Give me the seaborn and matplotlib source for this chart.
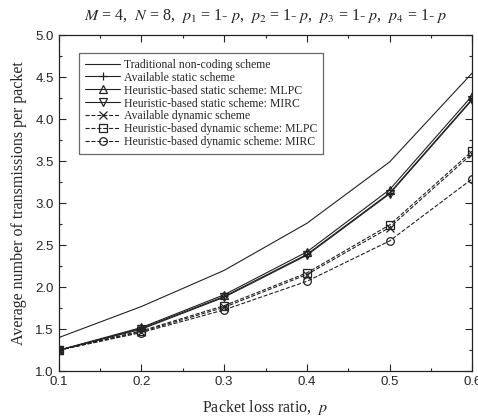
import numpy as np
import pandas as pd
import seaborn as sns
import matplotlib
matplotlib.use("Agg")
from matplotlib import pyplot as plt
from matplotlib.ticker import MultipleLocator

p = [0.1, 0.2, 0.3, 0.4, 0.5, 0.6]
traditional = [1.40, 1.77, 2.20, 2.76, 3.49, 4.55]
static_avail = [1.25, 1.51, 1.89, 2.39, 3.12, 4.24]
static_mlpc = [1.25, 1.52, 1.91, 2.42, 3.16, 4.28]
static_mirc = [1.25, 1.50, 1.88, 2.38, 3.11, 4.23]
dynamic_avail = [1.25, 1.47, 1.76, 2.15, 2.71, 3.59]
dynamic_mlpc = [1.25, 1.48, 1.78, 2.17, 2.74, 3.62]
dynamic_mirc = [1.25, 1.46, 1.73, 2.07, 2.55, 3.29]

series = [
    ("Traditional non-coding scheme", traditional, "-", None),
    ("Available static scheme", static_avail, "-", "+"),
    ("Heuristic-based static scheme: MLPC", static_mlpc, "-", "^"),
    ("Heuristic-based static scheme: MIRC", static_mirc, "-", "v"),
    ("Available dynamic scheme", dynamic_avail, "--", "x"),
    ("Heuristic-based dynamic scheme: MLPC", dynamic_mlpc, "--", "s"),
    ("Heuristic-based dynamic scheme: MIRC", dynamic_mirc, "--", "o"),
]

sns.set_style("ticks")
plt.rcParams["font.family"] = ["Liberation Sans", "DejaVu Sans"]
plt.rcParams["mathtext.fontset"] = "stix"

fig, ax = plt.subplots(figsize=(4.78, 4.18), dpi=100)
fig.subplots_adjust(left=0.123, right=0.988, bottom=0.112, top=0.916)

for name, vals, ls, mk in series:
    df = pd.DataFrame({"p": p, "v": vals})
    sns.lineplot(data=df, x="p", y="v", ax=ax, color="#222222", linestyle=ls,
                 linewidth=0.8, marker=mk, markersize=5.5, markerfacecolor="none",
                 markeredgecolor="#222222", markeredgewidth=0.9, label=name)

ax.set_xlim(0.1, 0.6)
ax.set_ylim(1.0, 5.0)
ax.xaxis.set_major_locator(MultipleLocator(0.1))
ax.xaxis.set_minor_locator(MultipleLocator(0.05))
ax.yaxis.set_major_locator(MultipleLocator(0.5))
ax.yaxis.set_minor_locator(MultipleLocator(0.25))
ax.set_xticklabels([f"{v:.1f}" for v in ax.get_xticks()])
ax.set_yticklabels([f"{v:.1f}" for v in ax.get_yticks()])
ax.tick_params(which="both", direction="in", top=True, right=True, labelsize=9.5, width=0.8)
ax.tick_params(which="major", length=5)
ax.tick_params(which="minor", length=2.5)
for s in ax.spines.values():
    s.set_linewidth(0.9)
    s.set_color("#222222")

serif = ["Liberation Serif", "DejaVu Serif"]
ax.set_xlabel(r"Packet loss ratio,  $p$", family=serif, fontsize=11.5, labelpad=7)
ax.set_ylabel("Average number of transmissions per packet", family=serif, fontsize=11.5, labelpad=6)
ax.set_title(r"$M$ = 4,  $N$ = 8,  $p_1$ = 1- $p$,  $p_2$ = 1- $p$,  $p_3$ = 1- $p$,  $p_4$ = 1- $p$",
             family=serif, fontsize=11.5, pad=11)

leg = ax.legend(loc="upper left", bbox_to_anchor=(0.035, 0.965), frameon=True, fancybox=False,
                edgecolor="#444444", prop={"family": serif, "size": 8.5}, handlelength=3.0,
                labelspacing=0.08, borderpad=0.5, handletextpad=0.3)
leg.get_frame().set_linewidth(0.9)

fig.savefig("out.png", dpi=100)
